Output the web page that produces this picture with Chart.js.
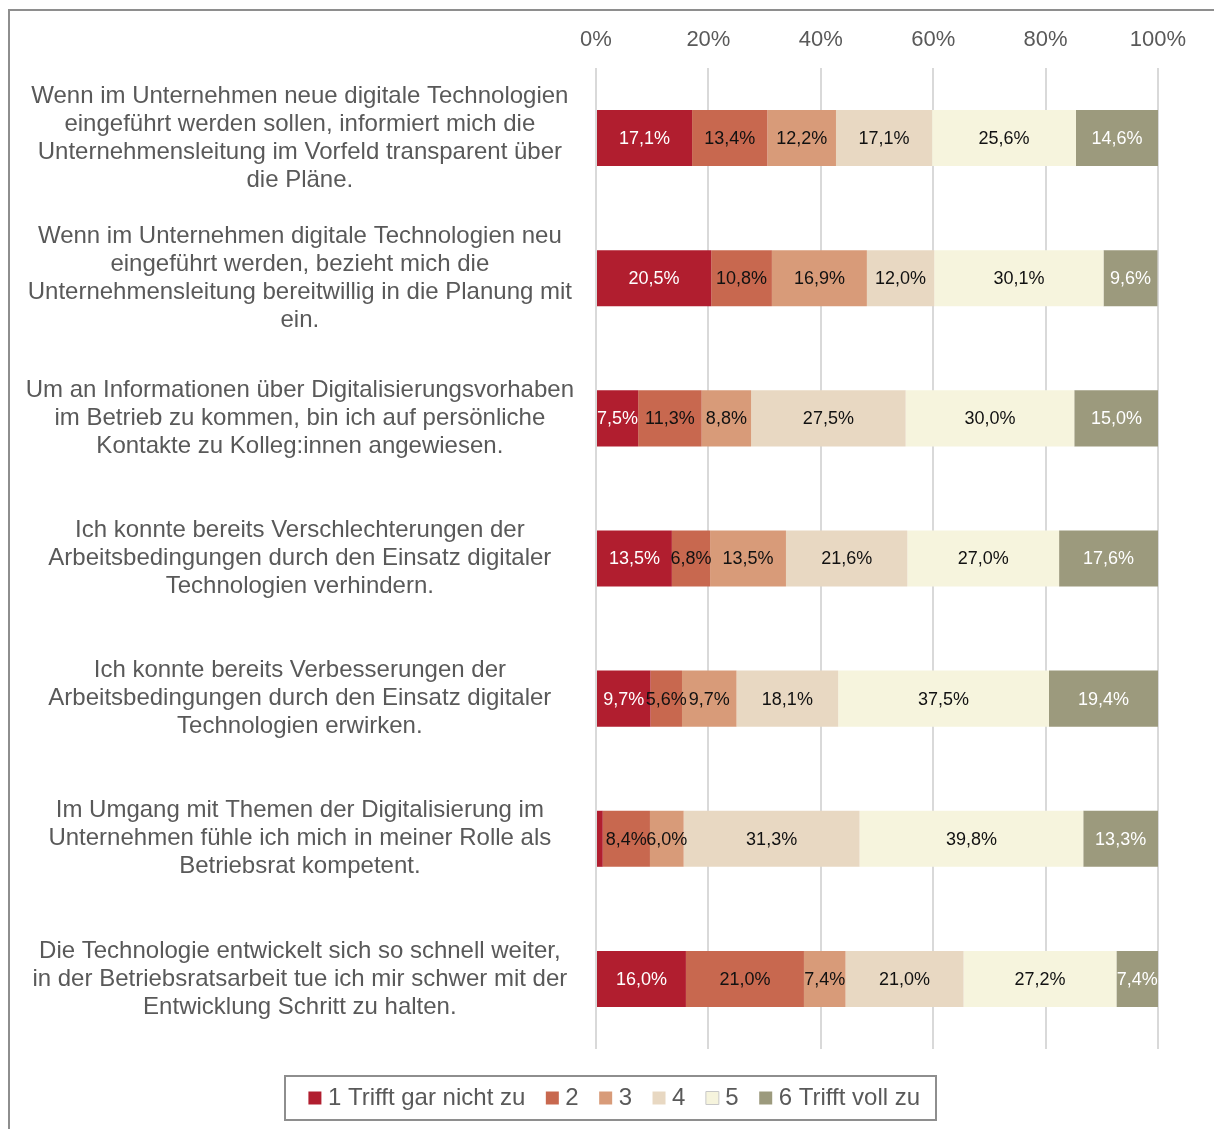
<!DOCTYPE html>
<html><head><meta charset="utf-8">
<script src="https://cdn.jsdelivr.net/npm/chart.js@4.4.1/dist/chart.umd.min.js"></script>
<style>html,body{margin:0;padding:0;background:#fff;}#wrap{width:1214px;height:1129px;position:relative}</style>
</head><body><div id="wrap"><canvas id="c" width="1214" height="1129"></canvas></div>
<script>
const categories = [
  ["Wenn im Unternehmen neue digitale Technologien", "eingeführt werden sollen, informiert mich die", "Unternehmensleitung im Vorfeld transparent über", "die Pläne."],
  ["Wenn im Unternehmen digitale Technologien neu", "eingeführt werden, bezieht mich die", "Unternehmensleitung bereitwillig in die Planung mit", "ein."],
  ["Um an Informationen über Digitalisierungsvorhaben", "im Betrieb zu kommen, bin ich auf persönliche", "Kontakte zu Kolleg:innen angewiesen."],
  ["Ich konnte bereits Verschlechterungen der", "Arbeitsbedingungen durch den Einsatz digitaler", "Technologien verhindern."],
  ["Ich konnte bereits Verbesserungen der", "Arbeitsbedingungen durch den Einsatz digitaler", "Technologien erwirken."],
  ["Im Umgang mit Themen der Digitalisierung im", "Unternehmen fühle ich mich in meiner Rolle als", "Betriebsrat kompetent."],
  ["Die Technologie entwickelt sich so schnell weiter,", "in der Betriebsratsarbeit tue ich mir schwer mit der", "Entwicklung Schritt zu halten."]
];
const seriesNames = ["1 Trifft gar nicht zu", "2", "3", "4", "5", "6 Trifft voll zu"];
const s1 = [17.1, 20.5, 7.5, 13.5, 9.7, 1.2, 16.0];
const s2 = [13.4, 10.8, 11.3, 6.8, 5.6, 8.4, 21.0];
const s3 = [12.2, 16.9, 8.8, 13.5, 9.7, 6.0, 7.4];
const s4 = [17.1, 12.0, 27.5, 21.6, 18.1, 31.3, 21.0];
const s5 = [25.6, 30.1, 30.0, 27.0, 37.5, 39.8, 27.2];
const s6 = [14.6, 9.6, 15.0, 17.6, 19.4, 13.3, 7.4];
const xTicks = [0, 20, 40, 60, 80, 100];

const seriesValues = [s1, s2, s3, s4, s5, s6];
const colors = ["#B11E2F", "#C8684F", "#D89B79", "#E8D8C2", "#F6F4DD", "#9C9A7D"];
const labelColors = ["#ffffff", "#111111", "#111111", "#111111", "#111111", "#ffffff"];
const FONT = "'Liberation Sans', Arial, sans-serif";
const GRAY = "#595959";
const PAD_LEFT = 76;

const unclip = {
  id: 'unclip',
  afterLayout(chart) { chart.scales.y.left = 0; }
};

const frame = {
  id: 'frame',
  beforeDraw(chart) {
    const ctx = chart.ctx;
    ctx.save();
    ctx.strokeStyle = '#8e8e8e';
    ctx.lineWidth = 2;
    ctx.beginPath();
    ctx.moveTo(9, 1129); ctx.lineTo(9, 10); ctx.lineTo(1214, 10);
    ctx.stroke();
    ctx.restore();
  },
  afterDraw(chart) {
    const lg = chart.legend;
    if (!lg || !lg.legendHitBoxes.length) return;
    const hb = lg.legendHitBoxes;
    let minX = Infinity, maxX = -Infinity, cy = 0;
    hb.forEach(b => { minX = Math.min(minX, b.left); maxX = Math.max(maxX, b.left + b.width); cy = b.top + b.height / 2; });
    const ctx = chart.ctx;
    ctx.save();
    ctx.strokeStyle = '#8e8e8e';
    ctx.lineWidth = 2;
    ctx.strokeRect(Math.round(minX - 28.5), Math.round(cy - 22), Math.round(maxX - minX + 44.5), 44);
    ctx.restore();
  }
};

const dataLabels = {
  id: 'dataLabels',
  afterDatasetsDraw(chart) {
    const ctx = chart.ctx;
    ctx.save();
    ctx.font = "18px " + FONT;
    ctx.textAlign = 'center';
    ctx.textBaseline = 'middle';
    chart.data.datasets.forEach((ds, i) => {
      const meta = chart.getDatasetMeta(i);
      meta.data.forEach((bar, j) => {
        const v = ds.data[j];
        if (v < 2) return;
        const txt = v.toFixed(1).replace('.', ',') + '%';
        ctx.fillStyle = labelColors[i];
        ctx.fillText(txt, (bar.x + bar.base) / 2, bar.y + 1);
      });
    });
    ctx.restore();
  }
};

new Chart(document.getElementById('c'), {
  type: 'bar',
  data: {
    labels: categories,
    datasets: seriesNames.map((n, i) => ({
      label: n,
      data: seriesValues[i],
      backgroundColor: colors[i],
      borderWidth: 0,
      categoryPercentage: 1,
      barPercentage: 0.4
    }))
  },
  options: {
    indexAxis: 'y',
    responsive: false,
    animation: false,
    devicePixelRatio: 1,
    layout: { padding: { left: PAD_LEFT, right: 56, top: 12, bottom: 9 } },
    scales: {
      x: {
        position: 'top',
        stacked: true,
        min: 0, max: 100,
        afterBuildTicks(scale) { scale.ticks = xTicks.map(v => ({ value: v })); },
        afterFit(scale) { scale.height = 56; },
        ticks: {
          callback: v => v + '%',
          color: GRAY,
          font: { family: FONT, size: 22 },
          padding: 15
        },
        grid: { color: '#d9d9d9', lineWidth: 2, drawTicks: false },
        border: { display: false }
      },
      y: {
        stacked: true,
        afterFit(scale) { scale.width = 596 - PAD_LEFT; },
        ticks: {
          crossAlign: 'center',
          color: GRAY,
          font: { family: FONT, size: 24, lineHeight: 28 / 24 },
          padding: 14
        },
        grid: { display: false },
        border: { display: false }
      }
    },
    plugins: {
      tooltip: { enabled: false },
      legend: {
        position: 'bottom',
        title: { display: true, text: '', font: { size: 1, lineHeight: 1 }, padding: { top: 10, bottom: 0 } },
        labels: {
          color: GRAY,
          font: { family: FONT, size: 24 },
          usePointStyle: true,
          pointStyle: 'rect',
          boxWidth: 2,
          boxHeight: 13,
          padding: 26,
          generateLabels(chart) {
            return chart.data.datasets.map((ds, i) => ({
              text: ds.label,
              fillStyle: colors[i],
              strokeStyle: i === 4 ? '#c8c8c8' : colors[i],
              lineWidth: i === 4 ? 1 : 0,
              pointStyle: 'rect',
              fontColor: GRAY,
              datasetIndex: i
            }));
          }
        }
      }
    }
  },
  plugins: [unclip, frame, dataLabels]
});
</script></body></html>
